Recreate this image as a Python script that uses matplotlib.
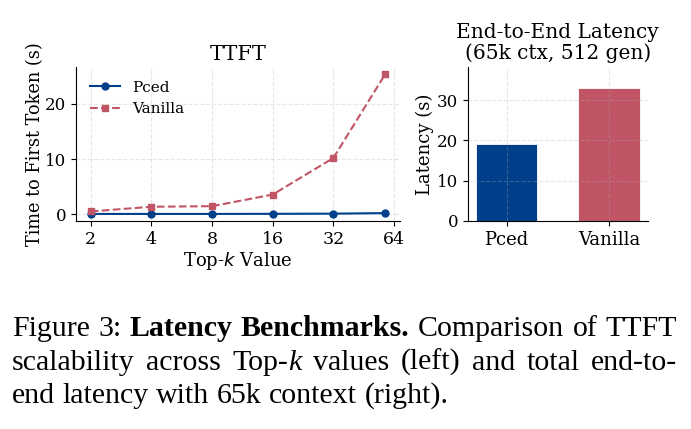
import matplotlib
matplotlib.use('Agg')
import matplotlib.pyplot as plt

# TTFT vs top-k (left panel)
topk = [2, 4, 8, 16, 32, 58]
topk_ticks = [2, 4, 8, 16, 32, 64]
topk_labels = ['2', '4', '8', '16', '32', '64']
pced_ttft = [0.1, 0.1, 0.1, 0.12, 0.15, 0.25]
vanilla_ttft = [0.55, 1.4, 1.5, 3.6, 10.2, 25.4]

# end-to-end latency (right panel)
methods = ['Pced', 'Vanilla']
e2e_latency = [19.1, 33.1]

blue = '#00408a'
red = '#c05566'

plt.rcParams['font.family'] = 'DejaVu Serif'

fig = plt.figure(figsize=(6.91, 4.29), dpi=100)
ax1 = fig.add_axes([0.110, 0.485, 0.469, 0.359])
ax2 = fig.add_axes([0.677, 0.485, 0.2605, 0.359])

ax1.plot(topk, pced_ttft, '-o', color=blue, lw=1.5, ms=5, label='Pced')
ax1.plot(topk, vanilla_ttft, '--s', color=red, lw=1.5, ms=5, label='Vanilla')
ax1.set_xscale('log', base=2)
ax1.set_xticks(topk_ticks)
ax1.set_xticklabels(topk_labels)
ax1.minorticks_off()
ax1.tick_params(axis='x', labelsize=12.5)
ax1.tick_params(axis='y', labelsize=12)
ax1.set_xlabel('Top-$k$ Value', fontsize=13, labelpad=2)
ax1.set_ylabel('Time to First Token (s)', fontsize=12.8, labelpad=1)
ax1.set_title('TTFT', fontsize=15, pad=5)
ax1.legend(loc='upper left', frameon=False, fontsize=11)
ax1.grid(True, ls='--', alpha=0.3)

ax2.bar(methods, e2e_latency, width=0.6, color=[blue, red], edgecolor='white', lw=0.6)
ax2.set_ylim(0, max(e2e_latency) * 1.155)
ax2.tick_params(axis='x', labelsize=13)
ax2.tick_params(axis='y', labelsize=12)
ax2.set_ylabel('Latency (s)', fontsize=13, labelpad=2)
ax2.set_title('End-to-End Latency\n(65k ctx, 512 gen)', fontsize=14.5, linespacing=1.05)
ax2.grid(True, ls='--', alpha=0.3)

for ax in (ax1, ax2):
    ax.spines['top'].set_visible(False)
    ax.spines['right'].set_visible(False)

# caption, justified like the paper text
CAP_FS = 21.5
CAP_FONT = 'Liberation Serif'
W = 691.0
H = 429.0
caption = [
    [[('Figure', 'normal', 'normal')], [('3:', 'normal', 'normal')],
     [('Latency', 'bold', 'normal')], [('Benchmarks.', 'bold', 'normal')],
     [('Comparison', 'normal', 'normal')], [('of', 'normal', 'normal')],
     [('TTFT', 'normal', 'normal')]],
    [[('scalability', 'normal', 'normal')], [('across', 'normal', 'normal')],
     [('Top-', 'normal', 'normal'), ('k', 'normal', 'italic')],
     [('values', 'normal', 'normal')], [('(left)', 'normal', 'normal')],
     [('and', 'normal', 'normal')], [('total', 'normal', 'normal')],
     [('end-to-', 'normal', 'normal')]],
    [[('end', 'normal', 'normal')], [('latency', 'normal', 'normal')],
     [('with', 'normal', 'normal')], [('65k', 'normal', 'normal')],
     [('context', 'normal', 'normal')], [('(right).', 'normal', 'normal')]],
]
baselines = [336, 370, 403]
x_left, x_right = 12, 677

r = fig.canvas.get_renderer()


def width_of(txt, wt='normal', st='normal'):
    t = fig.text(0, 0, txt, fontsize=CAP_FS, family=CAP_FONT, weight=wt, style=st)
    w = t.get_window_extent(r).width
    t.remove()
    return w


space = width_of('a a') - width_of('aa')

for i, line in enumerate(caption):
    widths = [sum(width_of(*p) for p in word) for word in line]
    if i < len(caption) - 1:
        gap = (x_right - x_left - sum(widths)) / (len(line) - 1)
    else:
        gap = space
    x = x_left
    for word, ww in zip(line, widths):
        xx = x
        for txt, wt, st in word:
            fig.text(xx / W, 1 - baselines[i] / H, txt, fontsize=CAP_FS, family=CAP_FONT,
                     weight=wt, style=st, va='baseline')
            xx += width_of(txt, wt, st)
        x += ww + gap

fig.savefig('out.png', dpi=100)
